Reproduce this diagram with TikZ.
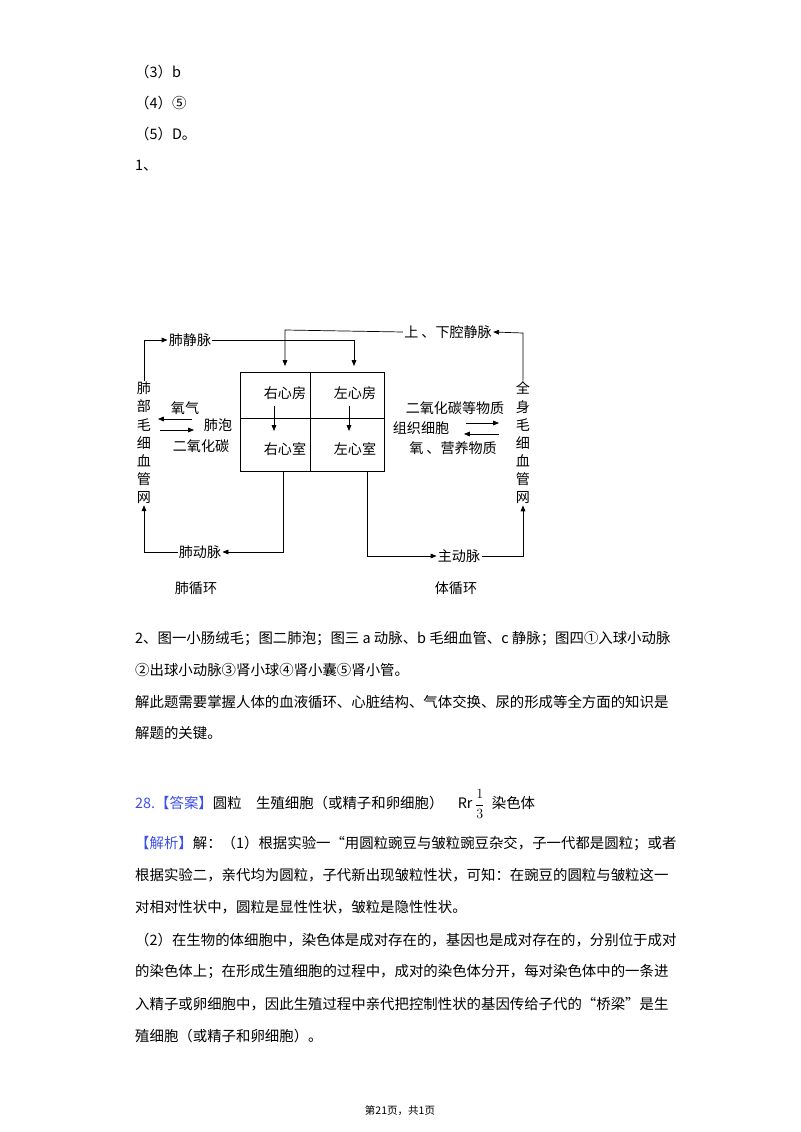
\documentclass[tikz,border=0pt]{standalone}
\usepackage{fontspec}
\setmainfont{Noto Sans CJK SC}
\usetikzlibrary{arrows.meta}
\begin{document}
\begin{tikzpicture}[x=0.03cm,y=-0.03cm,
  txt/.style={anchor=west,inner sep=0,font=\fontsize{12.3}{15}\selectfont},
  dg/.style={inner sep=1pt,font=\fontsize{12}{14}\selectfont},
  vt/.style={inner sep=1pt,font=\fontsize{12}{15.5}\selectfont,align=center},
  ln/.style={line width=0.6pt},
  ar/.style={ln,-{Triangle[length=5pt,width=4pt]}}]
\useasboundingbox (0,0) rectangle (800,1132);
\definecolor{bl}{RGB}{60,80,230}
% text above
\node[txt] (t3) at (135,72) {（3）b};
\node[txt] (t4) at (135,103) {（4）⑤};
\node[txt] (t5) at (135,134) {（5）D。};
\node[txt] (t1) at (135,166) {1、};
% diagram box
\draw[ln] (240,372) rectangle (384,471);
\draw[ln] (310,372) -- (310,471) (240,418) -- (384,418);
\node[dg] (ra) at (285,393) {右心房};
\node[dg] (la) at (355,393) {左心房};
\node[dg] (rv) at (285,449) {右心室};
\node[dg] (lv) at (355,449) {左心室};
\draw[ar] (274,406) -- (274,431);
\draw[ar] (349,406) -- (349,431);
\node[dg] (pv) at (190,340) {肺静脉};
\node[dg] (vc) at (448,332) {上 、下腔静脉};
\draw[ar] (pv.east) -- (354,340) -- (354,366);
\draw[ar] (vc.west) -- (285,330) -- (285,366);
\node[vt] (lcap) at (144,443) {肺\\部\\毛\\细\\血\\管\\网};
\node[vt] (rcap) at (523,443) {全\\身\\毛\\细\\血\\管\\网};
\draw[ar] (lcap.north) -- (144,340) -- (pv.west);
\draw[ar] (rcap.north) -- (523,333) -- (vc.east);
\node[dg] (pa) at (200,552) {肺动脉};
\node[dg] (ao) at (459,556) {主动脉};
\draw[ar] (283,471) -- (283,552) -- (pa.east);
\draw[ar] (pa.west) -- (144,552) -- (lcap.south);
\draw[ar] (367,471) -- (367,556) -- (ao.west);
\draw[ar] (ao.east) -- (523,556) -- (rcap.south);
\node[dg] (o2) at (185,408) {氧气};
\node[dg] (alv) at (218,425) {肺泡};
\node[dg] (co2) at (201,446) {二氧化碳};
\coordinate (l1) at (192,419); \coordinate (l2) at (158,419);
\coordinate (l3) at (160,430); \coordinate (l4) at (194,430);
\draw[ar] (l1) -- (l2);
\draw[ar] (l3) -- (l4);
\node[dg] (co2b) at (455,408) {二氧化碳等物质};
\node[dg] (cell) at (421,428) {组织细胞};
\node[dg] (nut) at (453,448) {氧 、营养物质};
\coordinate (r1) at (466,423); \coordinate (r2) at (499,423);
\coordinate (r3) at (499,434); \coordinate (r4) at (464,434);
\draw[ar] (r1) -- (r2);
\draw[ar] (r3) -- (r4);
\node[dg] (pc) at (196,588) {肺循环};
\node[dg] (sc) at (456,588) {体循环};
% text below
\node[txt] (p1) at (135,639) {2、图一小肠绒毛；图二肺泡；图三 a 动脉、b 毛细血管、c 静脉；图四①入球小动脉};
\node[txt] (p2) at (135,670) {②出球小动脉③肾小球④肾小囊⑤肾小管。};
\node[txt] (p3) at (135,702) {解此题需要掌握人体的血液循环、心脏结构、气体交换、尿的形成等全方面的知识是};
\node[txt] (p4) at (135,733) {解题的关键。};
\node[txt] (q1) at (135,804) {\textcolor{bl}{28.【答案】}圆粒\quad 生殖细胞（或精子和卵细胞）\quad Rr\,$\displaystyle\frac{1}{3}$\enspace 染色体};
\node[txt] (q2) at (135,843) {\textcolor{bl}{【解析】}解：（1）根据实验一“用圆粒豌豆与皱粒豌豆杂交，子一代都是圆粒；或者};
\node[txt] (q3) at (135,875) {根据实验二，亲代均为圆粒，子代新出现皱粒性状，可知：在豌豆的圆粒与皱粒这一};
\node[txt] (q4) at (135,907) {对相对性状中，圆粒是显性性状，皱粒是隐性性状。};
\node[txt] (q5) at (135,940) {（2）在生物的体细胞中，染色体是成对存在的，基因也是成对存在的，分别位于成对};
\node[txt] (q6) at (135,972) {的染色体上；在形成生殖细胞的过程中，成对的染色体分开，每对染色体中的一条进};
\node[txt] (q7) at (135,1004) {入精子或卵细胞中，因此生殖过程中亲代把控制性状的基因传给子代的“桥梁”是生};
\node[txt] (q8) at (135,1036) {殖细胞（或精子和卵细胞）。};
\node[inner sep=0,font=\fontsize{9}{11}\selectfont] (ft) at (400,1111) {第21页，共1页};
\end{tikzpicture}
\end{document}
